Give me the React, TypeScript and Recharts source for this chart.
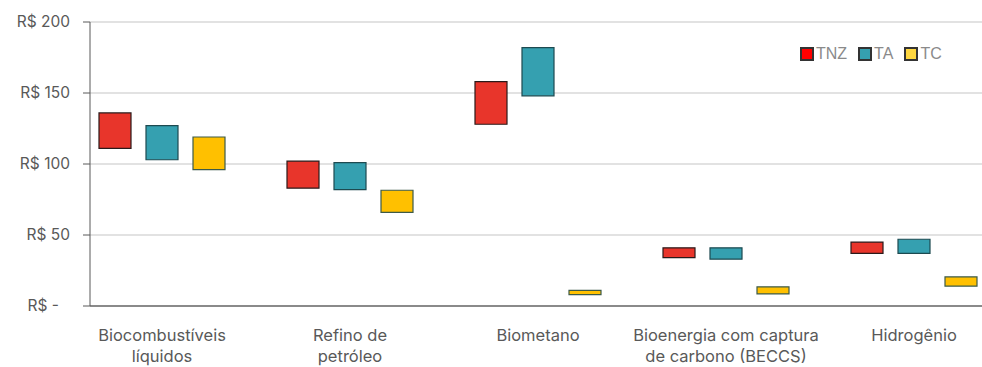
import React from "react";
import { BarChart, Bar, XAxis, YAxis, CartesianGrid } from "recharts";

const categories = [
  "Biocombustíveis líquidos",
  "Refino de petróleo",
  "Biometano",
  "Bioenergia com captura de carbono (BECCS)",
  "Hidrogênio",
];
const categoryLines = [
  ["Biocombustíveis", "líquidos"],
  ["Refino de", "petróleo"],
  ["Biometano"],
  ["Bioenergia com captura", "de carbono (BECCS)"],
  ["Hidrogênio"],
];
const tnz: [number, number][] = [[111, 136], [83, 102], [128, 158], [34, 41], [37, 45]];
const ta: [number, number][] = [[103, 127], [82, 101], [148, 182], [33, 41], [37, 47]];
const tc: [number, number][] = [[96, 119], [66, 81.5], [8, 11], [8.5, 13.5], [14, 20.5]];
const yTicks = [0, 50, 100, 150, 200];

const series = [
  { key: "TNZ", fill: "#E8352B", stroke: "#2a1a1a", legendFill: "#FF0000" },
  { key: "TA", fill: "#35A0B0", stroke: "#1d4a50", legendFill: "#35A0B0" },
  { key: "TC", fill: "#FFC000", stroke: "#3d5a48", legendFill: "#FFD740" },
];

const data = categories.map((c, i) => ({
  name: c,
  TNZ: tnz[i],
  TA: ta[i],
  TC: tc[i],
}));

const FONT = "Inter, 'Open Sans', sans-serif";

const YTick = (props: any) => {
  const { x, y, payload } = props;
  const v = payload.value;
  const label = v === 0 ? "R$ -" : `R$ ${v}`;
  const dx = v === 0 ? -11 : 0;
  return (
    <text x={x - 11 + dx} y={y} dy={5} textAnchor="end" fill="#595959" fontSize={15.5} fontFamily={FONT}>
      {label}
    </text>
  );
};

const XTick = (props: any) => {
  const { x, y, index } = props;
  const lines = categoryLines[index] || [];
  return (
    <text x={x} y={y} textAnchor="middle" fill="#595959" fontSize={16.5} fontFamily={FONT}>
      {lines.map((l, i) => (
        <tspan key={i} x={x} y={y + 27 + i * 21}>
          {l}
        </tspan>
      ))}
    </text>
  );
};

const LegendBox = () => (
  <div
    style={{
      position: "absolute",
      left: 800,
      top: 45,
      display: "flex",
      alignItems: "center",
      fontFamily: "'Liberation Sans Narrow', 'Arial Narrow', sans-serif",
      fontSize: 16,
      color: "#8a8a8a",
    }}
  >
    {series.map((s) => (
      <div key={s.key} style={{ display: "flex", alignItems: "center", marginRight: 11 }}>
        <div
          style={{
            width: 10,
            height: 10,
            background: s.legendFill,
            border: "2px solid #333",
            marginRight: 2,
          }}
        />
        <span>{s.key}</span>
      </div>
    ))}
  </div>
);

export default function App() {
  return (
    <div style={{ position: "absolute", left: 0, top: 0, width: 982, height: 367, background: "#fff" }}>
      <BarChart
        width={982}
        height={367}
        data={data}
        margin={{ top: 22, right: 0, bottom: 0, left: 0 }}
        barSize={32}
        barGap={15}
      >
        <CartesianGrid vertical={false} stroke="#d9d9d9" strokeWidth={1.5} />
        <XAxis
          dataKey="name"
          height={61}
          padding={{ left: -22, right: -26 }}
          tickLine={false}
          axisLine={{ stroke: "#333", strokeWidth: 1.2 }}
          tick={<XTick />}
          interval={0}
        />
        <YAxis
          width={90}
          domain={[0, 200]}
          ticks={yTicks}
          tickSize={7}
          tickLine={{ stroke: "#595959" }}
          axisLine={{ stroke: "#595959" }}
          tick={<YTick />}
        />
        {series.map((s) => (
          <Bar
            key={s.key}
            dataKey={s.key}
            fill={s.fill}
            stroke={s.stroke}
            strokeWidth={1.2}
            isAnimationActive={false}
          />
        ))}
      </BarChart>
      <LegendBox />
    </div>
  );
}
